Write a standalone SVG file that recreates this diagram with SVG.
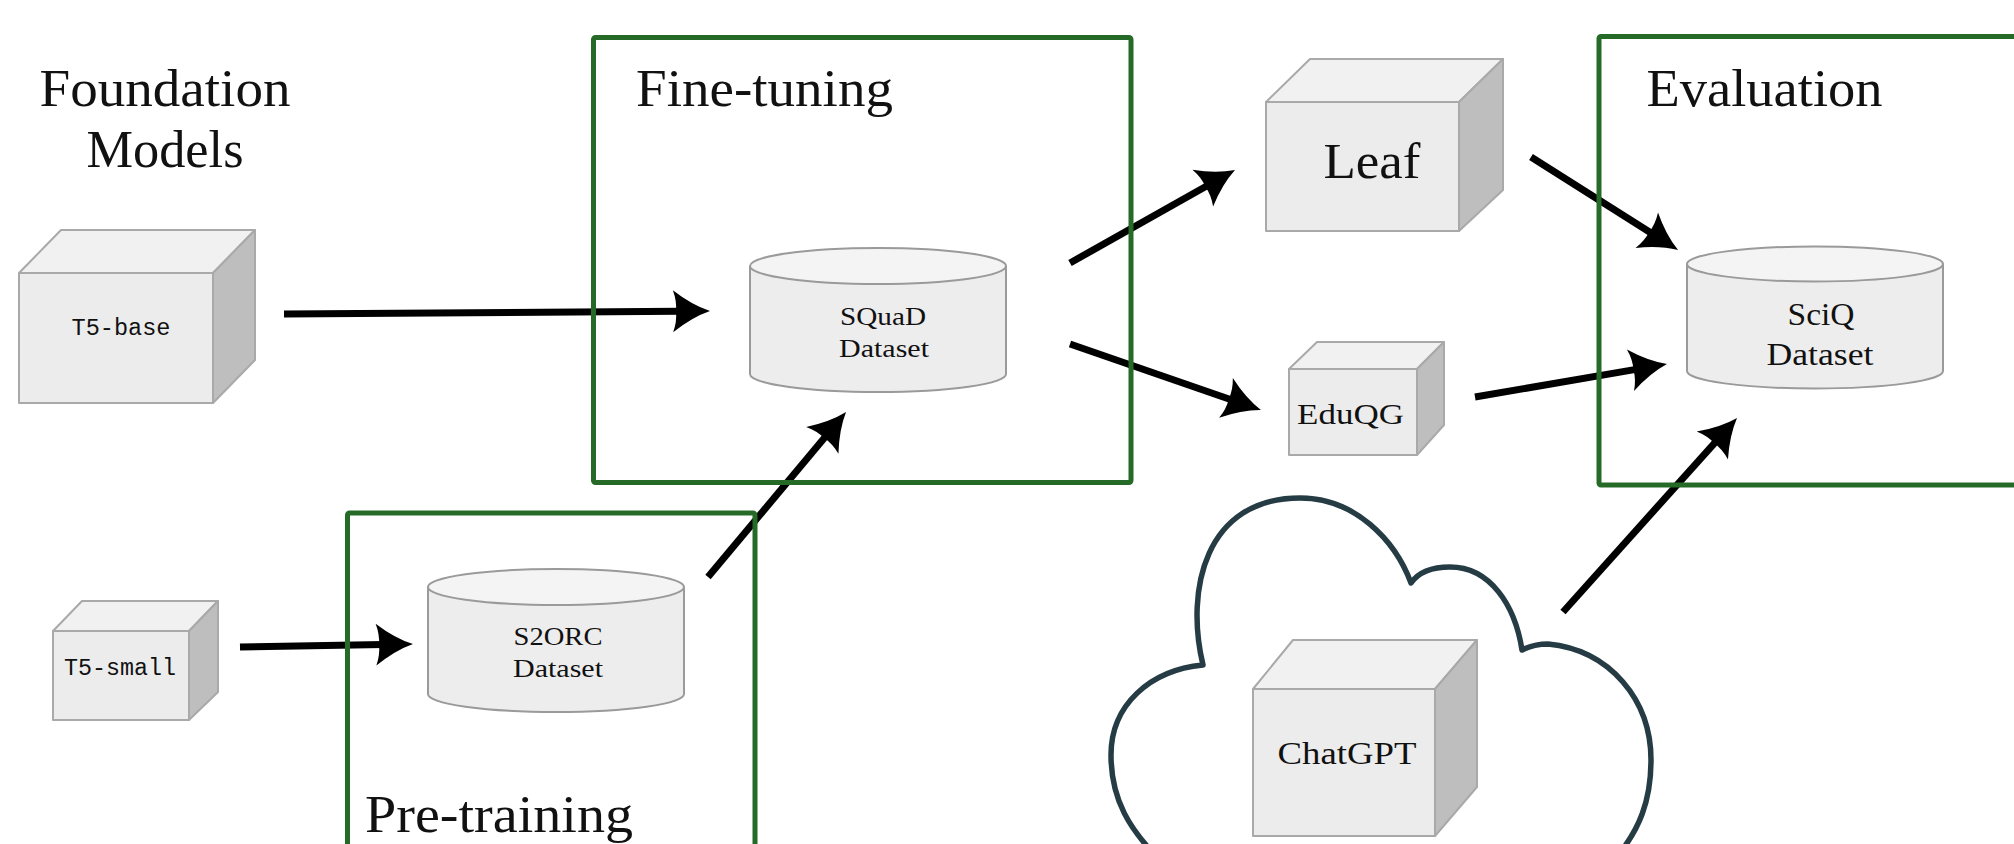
<svg xmlns="http://www.w3.org/2000/svg" width="2014" height="844" viewBox="0 0 2014 844">
  <style>
    .title { font-family: "Liberation Serif", "DejaVu Serif", serif; font-size: 52px; fill: #111; }
    .lbl { font-family: "Liberation Serif", "DejaVu Serif", serif; fill: #111; }
    .mono { font-family: "Liberation Mono", "DejaVu Sans Mono", monospace; font-size: 23px; fill: #111; }
    .front { fill: #ececec; stroke: #a9a9a9; stroke-width: 2; stroke-linejoin: round; }
    .top { fill: #f1f1f1; stroke: #a9a9a9; stroke-width: 2; stroke-linejoin: round; }
    .side { fill: #bebebe; stroke: #a9a9a9; stroke-width: 2; stroke-linejoin: round; }
    .cyl { fill: #ededed; stroke: #9a9a9a; stroke-width: 2; }
    .cyltop { fill: #f4f4f4; stroke: #9a9a9a; stroke-width: 2; }
    .stage { fill: none; stroke: #266a27; stroke-width: 5; }
    .edge { fill: none; stroke: #000; stroke-width: 7; marker-end: url(#head); }
    .cloud { fill: #fff; stroke: #263c44; stroke-width: 5.5; stroke-linejoin: round; }
  </style>
  <defs>
    <!-- concave arrowhead whose tip sits 30px past the line end -->
    <marker id="head" markerUnits="userSpaceOnUse" orient="auto" viewBox="-10 -25 45 50" markerWidth="45" markerHeight="50" refX="0" refY="0">
      <path d="M30,0 Q12,-6 -7,-21 Q-3,-10 -4,0 Q-3,10 -7,21 Q12,6 30,0 Z" fill="#000"/>
    </marker>
  </defs>

  <rect width="2014" height="844" fill="#fff"/>

  <!-- cloud hosting the ChatGPT model -->
  <g id="cloud">
    <path class="cloud" d="M1203,665 C1185,590 1205,498 1300,498 C1355,498 1395,540 1411,583 C1420,570 1435,567 1450,567 C1490,567 1515,605 1522,650 C1530,646 1540,644 1548,644 C1610,650 1651,700 1651,760 C1651,800 1640,830 1614,860 L1160,860 C1130,830 1111,800 1111,755 C1111,705 1150,670 1203,665 Z"/>
  </g>

  <!-- connectors -->
  <g id="connectors">
    <line class="edge" x1="284" y1="314" x2="680" y2="311.2"/>
    <line class="edge" x1="240" y1="647" x2="383" y2="644.5"/>
    <line class="edge" x1="708" y1="577" x2="826.8" y2="435"/>
    <line class="edge" x1="1070" y1="263" x2="1208.9" y2="184.7"/>
    <line class="edge" x1="1070" y1="344" x2="1232.6" y2="400.2"/>
    <line class="edge" x1="1531" y1="157" x2="1652.7" y2="234"/>
    <line class="edge" x1="1475" y1="397" x2="1637.4" y2="369.1"/>
    <line class="edge" x1="1563" y1="612" x2="1717" y2="440.3"/>
  </g>

  <!-- stage frames -->
  <g id="stage-finetuning">
    <rect class="stage" x="593.5" y="37.5" width="537.5" height="445" rx="2"/>
    <text class="title" x="636" y="106" textLength="257" lengthAdjust="spacingAndGlyphs">Fine-tuning</text>
  </g>
  <g id="stage-evaluation">
    <rect class="stage" x="1599" y="36.5" width="500" height="448.5" rx="2"/>
    <text class="title" x="1646.5" y="106" textLength="236" lengthAdjust="spacingAndGlyphs">Evaluation</text>
  </g>
  <g id="stage-pretraining">
    <rect class="stage" x="347.5" y="513" width="407.5" height="400" rx="2"/>
    <text class="title" x="365" y="832" textLength="268" lengthAdjust="spacingAndGlyphs">Pre-training</text>
  </g>

  <g id="foundation-heading">
    <text class="title" x="165" y="106" text-anchor="middle" textLength="251" lengthAdjust="spacingAndGlyphs">Foundation</text>
    <text class="title" x="165" y="167" text-anchor="middle" textLength="157" lengthAdjust="spacingAndGlyphs">Models</text>
  </g>

  <!-- model cubes -->
  <g id="t5-base">
    <polygon class="top" points="19,273 61,230 255,230 213,273"/>
    <polygon class="side" points="213,273 255,230 255,360 213,403"/>
    <rect class="front" x="19" y="273" width="194" height="130"/>
    <text class="mono" x="121" y="335" text-anchor="middle" textLength="99" lengthAdjust="spacingAndGlyphs">T5-base</text>
  </g>
  <g id="t5-small">
    <polygon class="top" points="53,631 82,601 218,601 189,631"/>
    <polygon class="side" points="189,631 218,601 218,692 189,720"/>
    <rect class="front" x="53" y="631" width="136" height="89"/>
    <text class="mono" x="120" y="675" text-anchor="middle" textLength="112" lengthAdjust="spacingAndGlyphs">T5-small</text>
  </g>
  <g id="leaf">
    <polygon class="top" points="1266,102 1310,59 1503,59 1459,102"/>
    <polygon class="side" points="1459,102 1503,59 1503,190 1459,231"/>
    <rect class="front" x="1266" y="102" width="193" height="129"/>
    <text class="lbl" x="1372" y="178" font-size="50" text-anchor="middle" textLength="97" lengthAdjust="spacingAndGlyphs">Leaf</text>
  </g>
  <g id="eduqg">
    <polygon class="top" points="1289,369 1317,342 1444,342 1417,369"/>
    <polygon class="side" points="1417,369 1444,342 1444,425 1417,455"/>
    <rect class="front" x="1289" y="369" width="128" height="86"/>
    <text class="lbl" x="1350.5" y="424" font-size="30" text-anchor="middle" textLength="107" lengthAdjust="spacingAndGlyphs">EduQG</text>
  </g>
  <g id="chatgpt">
    <polygon class="top" points="1253,689 1293,640 1477,640 1435,689"/>
    <polygon class="side" points="1435,689 1477,640 1477,787 1435,836"/>
    <rect class="front" x="1253" y="689" width="182" height="147"/>
    <text class="lbl" x="1347" y="764" font-size="31" text-anchor="middle" textLength="139" lengthAdjust="spacingAndGlyphs">ChatGPT</text>
  </g>

  <!-- datasets -->
  <g id="squad">
    <path class="cyl" d="M750,266 L750,374 A128,18 0 0 0 1006,374 L1006,266"/>
    <ellipse class="cyltop" cx="878" cy="266" rx="128" ry="18"/>
    <text class="lbl" x="883" y="325" font-size="26" text-anchor="middle" textLength="86" lengthAdjust="spacingAndGlyphs">SQuaD</text>
    <text class="lbl" x="884" y="357" font-size="26" text-anchor="middle" textLength="90" lengthAdjust="spacingAndGlyphs">Dataset</text>
  </g>
  <g id="s2orc">
    <path class="cyl" d="M428,587 L428,694 A128,18 0 0 0 684,694 L684,587"/>
    <ellipse class="cyltop" cx="556" cy="587" rx="128" ry="18"/>
    <text class="lbl" x="558" y="645" font-size="26" text-anchor="middle" textLength="89" lengthAdjust="spacingAndGlyphs">S2ORC</text>
    <text class="lbl" x="558" y="677" font-size="26" text-anchor="middle" textLength="90" lengthAdjust="spacingAndGlyphs">Dataset</text>
  </g>
  <g id="sciq">
    <path class="cyl" d="M1687,264 L1687,371 A128,17.5 0 0 0 1943,371 L1943,264"/>
    <ellipse class="cyltop" cx="1815" cy="264" rx="128" ry="17.5"/>
    <text class="lbl" x="1821" y="325" font-size="31" text-anchor="middle" textLength="67" lengthAdjust="spacingAndGlyphs">SciQ</text>
    <text class="lbl" x="1820" y="365" font-size="31" text-anchor="middle" textLength="107" lengthAdjust="spacingAndGlyphs">Dataset</text>
  </g>
</svg>
